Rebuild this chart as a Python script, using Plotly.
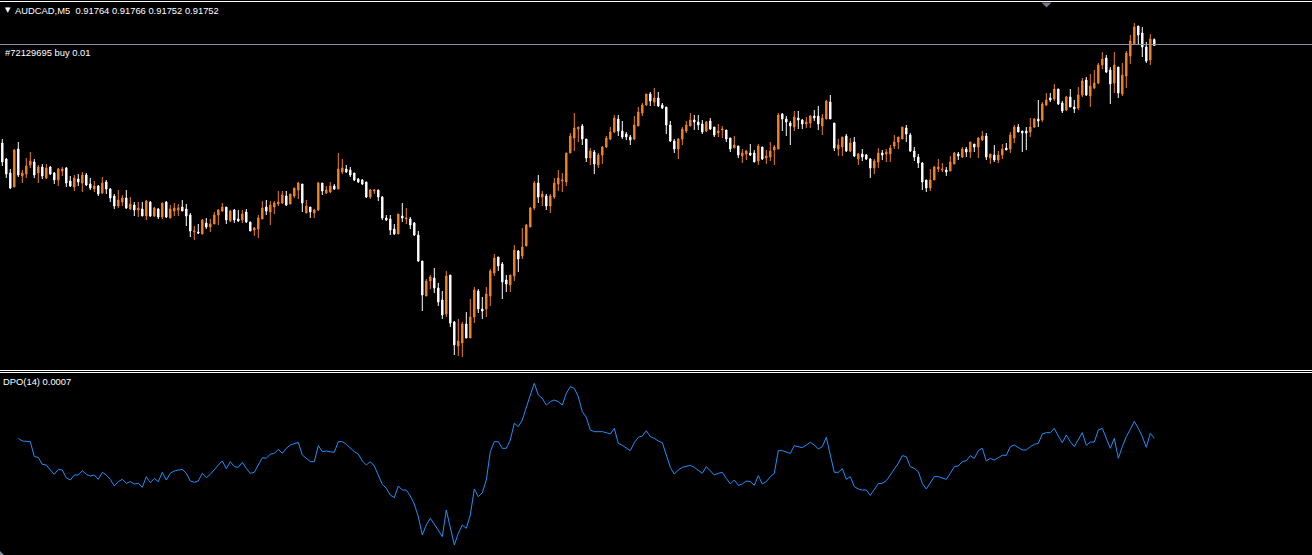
import plotly.graph_objects as go

# ---------------- data ----------------
symbol = "AUDCAD,M5"
order_label = "#72129695 buy 0.01"
order_price = 0.91754
dpo_period = 14
dpo_start = 4  # first bar where the DPO line is drawn

opens = [
0.91557,0.91525,0.91497,0.91469,0.91545,0.91491,0.91495,0.91513,0.91519,0.91497,
0.91509,0.91487,0.91509,0.91497,0.91483,0.91501,0.91507,0.91481,0.91469,0.91485,
0.91477,0.91493,0.91475,0.91465,0.91471,0.91457,0.91479,0.91465,0.91451,0.91431,
0.91439,0.91447,0.91425,0.91433,0.91423,0.91425,0.91411,0.91439,0.91411,0.91425,
0.91409,0.91439,0.91407,0.91421,0.91423,0.91429,0.91425,0.91413,0.91379,0.91379,
0.91375,0.91397,0.91389,0.91395,0.91413,0.91421,0.91429,0.91401,0.91423,0.91405,
0.91403,0.91419,0.91399,0.91383,0.91385,0.91405,0.91429,0.91419,0.91429,0.91435,
0.91437,0.91451,0.91435,0.91451,0.91463,0.91475,0.91417,0.91429,0.91417,0.91423,
0.91477,0.91457,0.91459,0.91471,0.91465,0.91499,0.91505,0.91503,0.91497,0.91485,
0.91483,0.91479,0.91449,0.91461,0.91463,0.91449,0.91407,0.91405,0.91385,0.91375,
0.91411,0.91405,0.91405,0.91397,0.91373,0.91321,0.91251,0.91281,0.91287,0.91267,
0.91243,0.91215,0.91293,0.91199,0.91151,0.91157,0.91195,0.91167,0.91209,0.91261,
0.91225,0.91225,0.91251,0.91297,0.91329,0.91315,0.91283,0.91273,0.91291,0.91341,
0.91331,0.91351,0.91389,0.91427,0.91477,0.91449,0.91451,0.91431,0.91449,0.91475,
0.91481,0.91479,0.91537,0.91567,0.91585,0.91591,0.91565,0.91527,0.91539,0.91513,
0.91533,0.91549,0.91565,0.91579,0.91605,0.91581,0.91575,0.91569,0.91565,0.91591,
0.91617,0.91633,0.91655,0.91639,0.91647,0.91633,0.91629,0.91593,0.91561,0.91545,
0.91565,0.91581,0.91591,0.91603,0.91599,0.91595,0.91581,0.91601,0.91589,0.91577,
0.91583,0.91583,0.91567,0.91547,0.91551,0.91531,0.91535,0.91537,0.91537,0.91521,
0.91549,0.91527,0.91529,0.91543,0.91545,0.91615,0.91605,0.91597,0.91589,0.91607,
0.91603,0.91595,0.91597,0.91611,0.91611,0.91591,0.91605,0.91639,0.91597,0.91545,
0.91549,0.91571,0.91541,0.91559,0.91525,0.91535,0.91533,0.91525,0.91507,0.91519,
0.91537,0.91535,0.91535,0.91551,0.91559,0.91565,0.91587,0.91573,0.91541,0.91529,
0.91517,0.91483,0.91467,0.91483,0.91505,0.91503,0.91503,0.91501,0.91515,0.91535,
0.91529,0.91545,0.91539,0.91555,0.91549,0.91563,0.91571,0.91527,0.91533,0.91523,
0.91533,0.91547,0.91545,0.91567,0.91589,0.91581,0.91581,0.91579,0.91589,0.91605,
0.91603,0.91633,0.91647,0.91645,0.91665,0.91637,0.91623,0.91649,0.91629,0.91627,
0.91653,0.91683,0.91651,0.91667,0.91677,0.91713,0.91727,0.91703,0.91677,0.91709,
0.91655,0.91691,0.91731,0.91755,0.91791,0.91777,0.91749,0.91723,0.91764]

highs = [
0.91565,0.91527,0.91505,0.91545,0.91559,0.91503,0.91527,0.91539,0.91525,0.91513,
0.91515,0.91515,0.91511,0.91499,0.91507,0.91509,0.91509,0.91491,0.91493,0.91495,
0.91499,0.91497,0.91487,0.91481,0.91473,0.91489,0.91483,0.91467,0.91455,0.91463,
0.91453,0.91463,0.91449,0.91439,0.91439,0.91439,0.91443,0.91441,0.91429,0.91427,
0.91437,0.91441,0.91433,0.91437,0.91435,0.91443,0.91435,0.91417,0.91391,0.91395,
0.91405,0.91407,0.91405,0.91419,0.91425,0.91437,0.91429,0.91423,0.91425,0.91423,
0.91423,0.91425,0.91399,0.91389,0.91413,0.91441,0.91443,0.91441,0.91441,0.91461,
0.91461,0.91461,0.91455,0.91467,0.91479,0.91475,0.91443,0.91429,0.91425,0.91479,
0.91477,0.91471,0.91479,0.91475,0.91537,0.91525,0.91513,0.91509,0.91497,0.91487,
0.91485,0.91479,0.91465,0.91465,0.91463,0.91451,0.91413,0.91413,0.91395,0.91415,
0.91437,0.91427,0.91409,0.91399,0.91381,0.91321,0.91285,0.91293,0.91307,0.91277,
0.91261,0.91301,0.91293,0.91201,0.91205,0.91199,0.91219,0.91245,0.91269,0.91265,
0.91249,0.91269,0.91305,0.91335,0.91329,0.91319,0.91293,0.91293,0.91353,0.91343,
0.91387,0.91395,0.91429,0.91481,0.91493,0.91461,0.91455,0.91455,0.91487,0.91503,
0.91497,0.91537,0.91577,0.91617,0.91589,0.91595,0.91565,0.91547,0.91543,0.91537,
0.91551,0.91571,0.91589,0.91613,0.91613,0.91601,0.91579,0.91573,0.91611,0.91629,
0.91637,0.91655,0.91659,0.91667,0.91659,0.91637,0.91629,0.91601,0.91565,0.91567,
0.91589,0.91601,0.91617,0.91613,0.91613,0.91603,0.91601,0.91607,0.91589,0.91595,
0.91591,0.91583,0.91567,0.91571,0.91551,0.91545,0.91543,0.91555,0.91543,0.91555,
0.91549,0.91543,0.91559,0.91553,0.91617,0.91617,0.91611,0.91601,0.91621,0.91621,
0.91605,0.91609,0.91613,0.91623,0.91631,0.91615,0.91643,0.91653,0.91597,0.91565,
0.91569,0.91575,0.91567,0.91569,0.91537,0.91545,0.91535,0.91527,0.91525,0.91547,
0.91543,0.91545,0.91553,0.91573,0.91569,0.91589,0.91593,0.91577,0.91549,0.91535,
0.91519,0.91483,0.91505,0.91511,0.91525,0.91517,0.91509,0.91531,0.91539,0.91539,
0.91549,0.91549,0.91559,0.91555,0.91569,0.91581,0.91577,0.91535,0.91553,0.91541,
0.91555,0.91557,0.91579,0.91593,0.91595,0.91581,0.91589,0.91607,0.91607,0.91643,
0.91639,0.91657,0.91657,0.91675,0.91665,0.91641,0.91651,0.91665,0.91643,0.91669,
0.91687,0.91689,0.91695,0.91703,0.91717,0.91739,0.91733,0.91709,0.91739,0.91709,
0.91717,0.91741,0.91773,0.91797,0.91791,0.91789,0.91759,0.91775,0.91766]

lows = [
0.91511,0.91487,0.91465,0.91469,0.91489,0.91477,0.91487,0.91507,0.91487,0.91477,
0.91485,0.91485,0.91493,0.91475,0.91471,0.91491,0.91469,0.91469,0.91461,0.91471,
0.91459,0.91471,0.91463,0.91459,0.91451,0.91455,0.91455,0.91439,0.91425,0.91427,
0.91431,0.91425,0.91423,0.91411,0.91409,0.91411,0.91403,0.91409,0.91409,0.91405,
0.91405,0.91407,0.91407,0.91411,0.91411,0.91421,0.91391,0.91369,0.91363,0.91375,
0.91375,0.91385,0.91379,0.91395,0.91393,0.91419,0.91395,0.91399,0.91397,0.91399,
0.91397,0.91397,0.91381,0.91371,0.91367,0.91405,0.91413,0.91393,0.91415,0.91431,
0.91435,0.91431,0.91435,0.91447,0.91445,0.91419,0.91417,0.91407,0.91407,0.91421,
0.91453,0.91455,0.91457,0.91463,0.91465,0.91495,0.91497,0.91489,0.91481,0.91477,
0.91473,0.91447,0.91445,0.91455,0.91441,0.91403,0.91401,0.91373,0.91373,0.91375,
0.91399,0.91395,0.91385,0.91371,0.91319,0.91221,0.91251,0.91265,0.91257,0.91231,
0.91205,0.91209,0.91189,0.91133,0.91131,0.91129,0.91167,0.91167,0.91197,0.91217,
0.91205,0.91209,0.91231,0.91291,0.91301,0.91245,0.91259,0.91259,0.91281,0.91299,
0.91325,0.91351,0.91389,0.91423,0.91437,0.91431,0.91423,0.91417,0.91445,0.91461,
0.91459,0.91471,0.91537,0.91541,0.91559,0.91553,0.91519,0.91513,0.91495,0.91507,
0.91515,0.91547,0.91563,0.91577,0.91571,0.91565,0.91563,0.91553,0.91563,0.91591,
0.91611,0.91631,0.91631,0.91631,0.91629,0.91625,0.91575,0.91559,0.91537,0.91525,
0.91553,0.91577,0.91591,0.91583,0.91583,0.91575,0.91579,0.91583,0.91569,0.91569,
0.91567,0.91559,0.91539,0.91547,0.91527,0.91517,0.91523,0.91531,0.91519,0.91513,
0.91523,0.91515,0.91521,0.91513,0.91545,0.91581,0.91571,0.91553,0.91581,0.91585,
0.91585,0.91587,0.91587,0.91601,0.91583,0.91573,0.91605,0.91605,0.91541,0.91531,
0.91531,0.91539,0.91539,0.91529,0.91513,0.91521,0.91523,0.91487,0.91495,0.91507,
0.91523,0.91519,0.91519,0.91545,0.91545,0.91565,0.91559,0.91539,0.91521,0.91507,
0.91463,0.91459,0.91461,0.91483,0.91499,0.91499,0.91491,0.91501,0.91515,0.91523,
0.91527,0.91529,0.91527,0.91539,0.91527,0.91561,0.91523,0.91515,0.91519,0.91517,
0.91525,0.91543,0.91537,0.91557,0.91579,0.91539,0.91543,0.91569,0.91587,0.91589,
0.91599,0.91631,0.91639,0.91641,0.91633,0.91617,0.91621,0.91629,0.91617,0.91623,
0.91649,0.91651,0.91629,0.91665,0.91675,0.91705,0.91697,0.91635,0.91657,0.91647,
0.91651,0.91667,0.91715,0.91753,0.91753,0.91729,0.91717,0.91713,0.91752]

closes = [
0.91519,0.91495,0.91467,0.91543,0.91493,0.91497,0.91511,0.91521,0.91493,0.91509,
0.91491,0.91507,0.91495,0.91483,0.91505,0.91505,0.91477,0.91471,0.91487,0.91479,
0.91493,0.91473,0.91467,0.91471,0.91455,0.91477,0.91465,0.91447,0.91431,0.91443,
0.91447,0.91427,0.91435,0.91423,0.91427,0.91411,0.91441,0.91411,0.91427,0.91409,
0.91437,0.91409,0.91425,0.91427,0.91427,0.91421,0.91411,0.91381,0.91381,0.91377,
0.91403,0.91389,0.91395,0.91413,0.91423,0.91429,0.91403,0.91421,0.91403,0.91401,
0.91415,0.91399,0.91381,0.91387,0.91407,0.91427,0.91421,0.91433,0.91437,0.91439,
0.91453,0.91433,0.91455,0.91467,0.91477,0.91437,0.91431,0.91419,0.91423,0.91477,
0.91461,0.91463,0.91471,0.91465,0.91505,0.91507,0.91499,0.91493,0.91483,0.91479,
0.91475,0.91449,0.91463,0.91463,0.91449,0.91407,0.91403,0.91383,0.91375,0.91415,
0.91407,0.91407,0.91393,0.91373,0.91321,0.91253,0.91281,0.91289,0.91267,0.91239,
0.91213,0.91291,0.91197,0.91153,0.91161,0.91195,0.91167,0.91209,0.91263,0.91225,
0.91221,0.91255,0.91301,0.91327,0.91311,0.91279,0.91275,0.91293,0.91343,0.91325,
0.91349,0.91393,0.91427,0.91477,0.91449,0.91455,0.91431,0.91451,0.91477,0.91487,
0.91483,0.91537,0.91571,0.91587,0.91589,0.91565,0.91527,0.91541,0.91515,0.91533,
0.91549,0.91567,0.91579,0.91607,0.91581,0.91569,0.91569,0.91563,0.91593,0.91619,
0.91633,0.91655,0.91641,0.91647,0.91631,0.91627,0.91593,0.91561,0.91545,0.91565,
0.91585,0.91593,0.91603,0.91599,0.91593,0.91579,0.91599,0.91585,0.91573,0.91581,
0.91585,0.91565,0.91545,0.91553,0.91533,0.91537,0.91541,0.91533,0.91519,0.91551,
0.91525,0.91531,0.91541,0.91549,0.91613,0.91605,0.91599,0.91591,0.91609,0.91603,
0.91595,0.91599,0.91611,0.91607,0.91595,0.91607,0.91641,0.91605,0.91547,0.91553,
0.91569,0.91541,0.91557,0.91531,0.91535,0.91529,0.91525,0.91507,0.91521,0.91537,
0.91533,0.91539,0.91547,0.91559,0.91569,0.91589,0.91575,0.91541,0.91529,0.91517,
0.91479,0.91467,0.91483,0.91509,0.91509,0.91505,0.91499,0.91519,0.91537,0.91531,
0.91545,0.91539,0.91559,0.91549,0.91567,0.91571,0.91529,0.91535,0.91523,0.91533,
0.91545,0.91543,0.91573,0.91589,0.91579,0.91577,0.91577,0.91589,0.91605,0.91601,
0.91635,0.91643,0.91643,0.91665,0.91635,0.91621,0.91649,0.91629,0.91625,0.91653,
0.91681,0.91653,0.91671,0.91677,0.91713,0.91725,0.91699,0.91675,0.91713,0.91657,
0.91693,0.91737,0.91761,0.91789,0.91773,0.91749,0.91721,0.91765,0.91752]

dpo = [
0.00070,0.00062,0.00061,0.00060,0.00015,0.00013,-0.00008,-0.00010,-0.00025,-0.00038,
-0.00023,-0.00025,-0.00048,-0.00055,-0.00040,-0.00040,-0.00027,-0.00038,-0.00043,-0.00040,
-0.00053,-0.00032,-0.00040,-0.00053,-0.00073,-0.00060,-0.00053,-0.00065,-0.00060,-0.00067,
-0.00065,-0.00077,-0.00045,-0.00063,-0.00050,-0.00060,-0.00032,-0.00055,-0.00035,-0.00028,
-0.00025,-0.00023,-0.00035,-0.00058,-0.00062,-0.00058,-0.00035,-0.00048,-0.00038,-0.00023,
-0.00010,0.00002,-0.00021,0.00000,-0.00015,-0.00017,-0.00002,-0.00020,-0.00035,-0.00032,
-0.00010,0.00012,0.00010,0.00023,0.00025,0.00037,0.00025,0.00040,0.00050,0.00053,
0.00058,0.00020,0.00010,0.00000,0.00000,0.00048,0.00030,0.00032,0.00030,0.00028,
0.00060,0.00060,0.00052,0.00042,0.00030,0.00023,0.00002,-0.00010,0.00000,-0.00013,
-0.00040,-0.00068,-0.00080,-0.00100,-0.00108,-0.00073,-0.00085,-0.00085,-0.00103,-0.00127,
-0.00165,-0.00220,-0.00190,-0.00170,-0.00187,-0.00205,-0.00225,-0.00145,-0.00203,-0.00250,
-0.00215,-0.00190,-0.00200,-0.00160,-0.00082,-0.00105,-0.00093,-0.00055,0.00030,0.00060,
0.00060,0.00040,0.00040,0.00065,0.00115,0.00105,0.00125,0.00165,0.00200,0.00235,
0.00200,0.00190,0.00170,0.00180,0.00185,0.00180,0.00170,0.00205,0.00225,0.00220,
0.00195,0.00150,0.00133,0.00095,0.00090,0.00090,0.00090,0.00087,0.00083,0.00100,
0.00055,0.00049,0.00040,0.00033,0.00057,0.00073,0.00077,0.00093,0.00075,0.00070,
0.00062,0.00057,0.00020,-0.00017,-0.00037,-0.00025,-0.00017,-0.00013,-0.00011,-0.00017,
-0.00025,-0.00035,-0.00015,-0.00027,-0.00040,-0.00035,-0.00032,-0.00050,-0.00067,-0.00055,
-0.00071,-0.00067,-0.00058,-0.00060,-0.00071,-0.00042,-0.00067,-0.00060,-0.00045,-0.00035,
0.00033,0.00033,0.00030,0.00025,0.00048,0.00045,0.00042,0.00050,0.00058,0.00050,
0.00038,0.00045,0.00073,0.00020,-0.00032,-0.00032,-0.00021,-0.00053,-0.00045,-0.00075,
-0.00082,-0.00085,-0.00085,-0.00101,-0.00085,-0.00066,-0.00065,-0.00057,-0.00040,-0.00023,
-0.00005,0.00018,0.00015,-0.00015,-0.00020,-0.00030,-0.00065,-0.00082,-0.00065,-0.00045,
-0.00045,-0.00050,-0.00053,-0.00035,-0.00015,-0.00013,0.00000,0.00003,0.00018,0.00010,
0.00033,0.00040,0.00002,0.00010,0.00005,0.00012,0.00019,0.00019,0.00045,0.00050,
0.00042,0.00035,0.00035,0.00045,0.00052,0.00055,0.00083,0.00087,0.00087,0.00100,
0.00077,0.00057,0.00080,0.00060,0.00045,0.00067,0.00087,0.00049,0.00059,0.00059,
0.00095,0.00100,0.00070,0.00040,0.00070,0.00010,0.00045,0.00075,0.00097,0.00121,
0.00100,0.00075,0.00043,0.00085,0.00070]

bars = list(range(len(closes)))
dpo_bars = bars[dpo_start:dpo_start + len(dpo)]

# ---------------- styling ----------------
W, H = 1312, 555
UP = "#F0841E"
DOWN = "#FFFFFF"
DPO_COLOR = "#1E90FF"
FONT = "Liberation Sans"
FS = 9.4

def py(pix):  # pixel row -> paper y
    return 1 - pix / H

def px(pix):
    return pix / W

fig = go.Figure()
fig.add_trace(go.Candlestick(
    x=bars, open=opens, high=highs, low=lows, close=closes,
    increasing=dict(line=dict(color=UP, width=1), fillcolor=UP),
    decreasing=dict(line=dict(color=DOWN, width=1), fillcolor=DOWN),
    whiskerwidth=0, xaxis="x", yaxis="y", hoverinfo="skip",
))
fig.add_trace(go.Scatter(
    x=dpo_bars, y=dpo, mode="lines", line=dict(color=DPO_COLOR, width=1),
    xaxis="x2", yaxis="y2", hoverinfo="skip",
))

xr = [-0.575, 327.425]
fig.update_layout(
    width=W, height=H, margin=dict(l=0, r=0, t=0, b=0),
    paper_bgcolor="#000000", plot_bgcolor="#000000", showlegend=False,
    boxgap=0.5,
    xaxis=dict(range=xr, visible=False, rangeslider=dict(visible=False), fixedrange=True),
    xaxis2=dict(range=xr, visible=False, anchor="y2", fixedrange=True),
    yaxis=dict(domain=[py(369), py(3)], range=[0.91105, 0.91837], visible=False),
    yaxis2=dict(domain=[0, py(373)], range=[-0.0028, 0.00266], visible=False, anchor="x2"),
)

shapes = [
    # top border line
    dict(type="line", xref="paper", yref="paper", x0=0, x1=1, y0=py(1.5), y1=py(1.5),
         line=dict(color="#FFFFFF", width=1)),
    # double separator between panes
    dict(type="line", xref="paper", yref="paper", x0=0, x1=1, y0=py(370.5), y1=py(370.5),
         line=dict(color="#FFFFFF", width=1)),
    dict(type="line", xref="paper", yref="paper", x0=0, x1=1, y0=py(372.5), y1=py(372.5),
         line=dict(color="#FFFFFF", width=1)),
    # order level
    dict(type="line", xref="paper", yref="y", x0=0, x1=1, y0=order_price, y1=order_price,
         line=dict(color="#8A9199", width=1)),
    # chart shift marker
    dict(type="path", xref="paper", yref="paper",
         path=f"M {px(1041.5)},{py(2.5)} L {px(1051.5)},{py(2.5)} L {px(1046.5)},{py(7.5)} Z",
         fillcolor="#6E7A86", line=dict(width=0)),
    # corner marker bottom-left
    dict(type="path", xref="paper", yref="paper",
         path=f"M 0,{py(551)} L 0,{py(555)} L {px(4)},{py(555)} Z",
         fillcolor="#7F8E9C", line=dict(width=0)),
]
fig.update_layout(shapes=shapes)

header = f"{symbol}  {opens[-1]:.5f} {highs[-1]:.5f} {lows[-1]:.5f} {closes[-1]:.5f}"
ann = [
    dict(text="▼", x=px(3), y=py(10), font=dict(size=7, color="#FFFFFF", family="DejaVu Sans")),
    dict(text=header, x=px(13), y=py(10), font=dict(size=FS, color="#FFFFFF", family=FONT)),
    dict(text=order_label, x=px(3), y=py(52), font=dict(size=FS, color="#FFFFFF", family=FONT)),
    dict(text=f"DPO({dpo_period}) {dpo[-1]:.4f}", x=px(1), y=py(381),
         font=dict(size=FS, color="#FFFFFF", family=FONT)),
]
for a in ann:
    a.update(xref="paper", yref="paper", xanchor="left", yanchor="middle",
             showarrow=False)
fig.update_layout(annotations=ann)

fig.write_html(
    "out.html",
    config={"displayModeBar": False},
    post_script="document.body.style.margin='0';document.body.style.padding='0';"
                "document.body.style.overflow='hidden';",
)
